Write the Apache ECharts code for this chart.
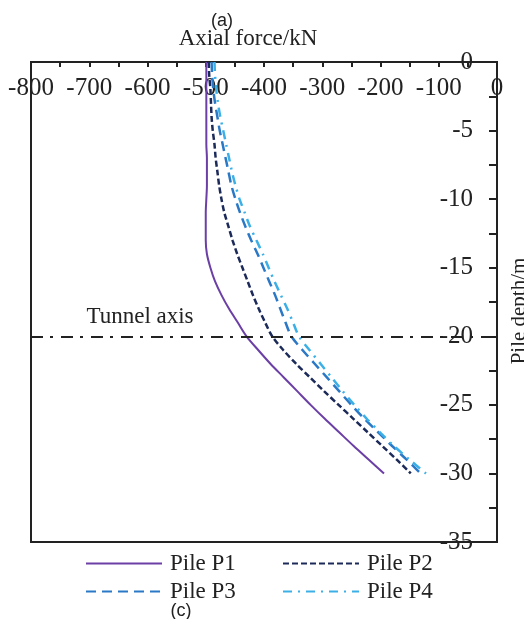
<!DOCTYPE html>
<html>
<head>
<meta charset="utf-8">
<script src="https://cdn.jsdelivr.net/npm/echarts@6/dist/echarts.min.js"></script>
<style>html,body{margin:0;padding:0;background:#fff;}#c{width:524px;height:619px;}</style>
</head>
<body>
<div id="c"></div>
<script>
// Pile depth (m)
const depths = [0,-1,-2,-3,-4,-5,-6,-7,-8,-9,-10,-11,-12,-13,-14,-15,-16,-17,-18,-19,-20,-21,-22,-23,-24,-25,-26,-27,-28,-29,-30];
// Axial force (kN)
const pileP1 = [-499,-499,-499,-499,-499,-499,-499,-498,-498,-498,-499,-500,-500,-500,-498,-492,-484,-473,-460,-445,-430,-410,-389,-366,-343,-320,-296,-271,-246,-220,-194];
const pileP2 = [-495,-494,-492,-491,-490,-488,-485,-483,-480,-477,-473,-468,-461,-454,-446,-437,-428,-419,-409,-398,-386,-367,-345,-321,-297,-272,-247,-222,-197,-172,-148];
const pileP3 = [-490,-489,-487,-484,-480,-476,-471,-466,-461,-456,-449,-441,-432,-422,-411,-401,-391,-381,-372,-363,-353,-334,-313,-292,-271,-250,-228,-204,-180,-155,-131];
const pileP4 = [-485,-484,-482,-479,-475,-470,-465,-460,-455,-449,-442,-433,-424,-413,-402,-392,-382,-371,-360,-350,-340,-322,-303,-284,-265,-245,-224,-201,-177,-150,-122];
const seriesNames = ['Pile P1','Pile P2','Pile P3','Pile P4'];
const tunnelDepth = -20;

const serif = 'Liberation Serif';
const pair = arr => arr.map((v, i) => [v, depths[i]]);

const legendPos = [[85, 552], [282, 552], [85, 580], [282, 580]];
const legends = seriesNames.map((n, i) => ({
  data: [n], orient: 'horizontal', left: legendPos[i][0], top: legendPos[i][1],
  padding: 0, itemWidth: 76, itemHeight: 14, itemGap: 0,
  itemStyle: {opacity: 0},
  textStyle: {fontFamily: serif, fontSize: 23, color: '#222', padding: [0, 0, 0, 3]}
}));

const chart = echarts.init(document.getElementById('c'), null, {renderer: 'canvas'});
chart.setOption({
  animation: false,
  backgroundColor: '#fff',
  grid: {left: 31, right: 27, top: 62, bottom: 77, show: true, borderColor: '#222', borderWidth: 2, backgroundColor: 'transparent'},
  xAxis: {
    type: 'value', position: 'top', min: -800, max: 0, interval: 50,
    axisLine: {show: true, lineStyle: {color: '#222', width: 2}},
    axisTick: {show: true, inside: true, length: 5, lineStyle: {color: '#222', width: 2}},
    axisLabel: {inside: true, margin: 14, fontFamily: serif, fontSize: 25, color: '#222',
      formatter: v => (v % 100 === 0 ? String(v) : '')},
    splitLine: {show: false}
  },
  yAxis: {
    type: 'value', position: 'right', min: -35, max: 0, interval: 2.5,
    axisLine: {show: true, lineStyle: {color: '#222', width: 2}},
    axisTick: {show: true, inside: true, length: 8, lineStyle: {color: '#222', width: 2}},
    axisLabel: {inside: true, margin: 24, fontFamily: serif, fontSize: 25, color: '#222',
      formatter: v => (v % 5 === 0 ? String(v) : '')},
    splitLine: {show: false}
  },
  legend: legends,
  series: [
    {name: seriesNames[0], type: 'line', data: pair(pileP1), symbol: 'none', smooth: 0.3,
     lineStyle: {color: '#6b3fa6', width: 2, type: 'solid'}, itemStyle: {color: '#6b3fa6'},
     markLine: {silent: true, symbol: 'none', label: {show: false},
       lineStyle: {color: '#222', width: 2, type: [12, 7, 3, 8]},
       data: [{yAxis: tunnelDepth}]}},
    {name: seriesNames[1], type: 'line', data: pair(pileP2), symbol: 'none', smooth: 0.3,
     lineStyle: {color: '#1c2a5a', width: 2.5, type: [6, 3]}, itemStyle: {color: '#1c2a5a'}},
    {name: seriesNames[2], type: 'line', data: pair(pileP3), symbol: 'none', smooth: 0.3,
     lineStyle: {color: '#2a78c6', width: 2.5, type: [10, 6]}, itemStyle: {color: '#2a78c6'}},
    {name: seriesNames[3], type: 'line', data: pair(pileP4), symbol: 'none', smooth: 0.3,
     lineStyle: {color: '#3cb0e6', width: 2.5, type: [9, 6, 2, 6]}, itemStyle: {color: '#3cb0e6'}}
  ],
  graphic: [
    {type: 'text', x: 222, y: 21, style: {text: '(a)', font: '18px "Liberation Sans"', fill: '#222', textAlign: 'center', textVerticalAlign: 'middle'}},
    {type: 'text', x: 248, y: 39, style: {text: 'Axial force/kN', font: '23px "Liberation Serif"', fill: '#222', textAlign: 'center', textVerticalAlign: 'middle'}},
    {type: 'text', x: 519, y: 311, rotation: Math.PI / 2, style: {text: 'Pile depth/m', font: '21px "Liberation Serif"', fill: '#222', textAlign: 'center', textVerticalAlign: 'middle'}},
    {type: 'text', x: 140, y: 317, style: {text: 'Tunnel axis', font: '23px "Liberation Serif"', fill: '#222', textAlign: 'center', textVerticalAlign: 'middle'}},
    {type: 'text', x: 181, y: 611, style: {text: '(c)', font: '18px "Liberation Sans"', fill: '#222', textAlign: 'center', textVerticalAlign: 'middle'}}
  ]
});
</script>
</body>
</html>
